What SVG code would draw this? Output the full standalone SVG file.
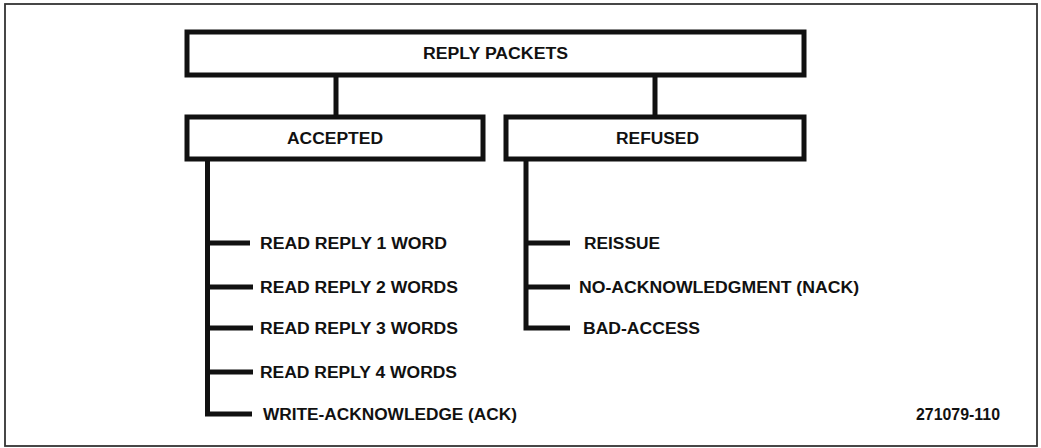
<svg xmlns="http://www.w3.org/2000/svg" width="1041" height="448" viewBox="0 0 1041 448">
<style>
.box{fill:#fff;stroke:#111;stroke-width:5}
.ln{stroke:#111;stroke-width:5;fill:none;stroke-linecap:butt}
text{font-family:"Liberation Sans",Arial,sans-serif;font-weight:bold;font-size:16px;fill:#111}
</style>
<rect x="0" y="0" width="1041" height="448" fill="#fff"/>
<rect id="frame" x="5" y="4" width="1032" height="442" fill="none" stroke="#333" stroke-width="1.8"/>
<g id="connectors">
<line class="ln" x1="336" y1="75" x2="336" y2="117"/>
<line class="ln" x1="655" y1="75" x2="655" y2="117"/>
<polyline class="ln" points="207.5,159 207.5,414 252,414"/>
<line class="ln" x1="207" y1="243" x2="250" y2="243"/>
<line class="ln" x1="207" y1="287" x2="253" y2="287"/>
<line class="ln" x1="207" y1="328" x2="253" y2="328"/>
<line class="ln" x1="207" y1="372" x2="253" y2="372"/>
<polyline class="ln" points="526,159 526,328 570,328"/>
<line class="ln" x1="526" y1="243" x2="570" y2="243"/>
<line class="ln" x1="526" y1="287" x2="570" y2="287"/>
</g>
<g id="reply-packets">
<rect class="box" x="187" y="32" width="617" height="43"/>
<text x="423" y="59" textLength="145" lengthAdjust="spacingAndGlyphs">REPLY PACKETS</text>
</g>
<g id="accepted">
<rect class="box" x="187" y="117" width="296" height="42"/>
<text x="287" y="144" textLength="96" lengthAdjust="spacingAndGlyphs">ACCEPTED</text>
</g>
<g id="refused">
<rect class="box" x="506" y="117" width="298" height="42"/>
<text x="616" y="144" textLength="83" lengthAdjust="spacingAndGlyphs">REFUSED</text>
</g>
<g id="read1"><text x="260" y="249" textLength="187" lengthAdjust="spacingAndGlyphs">READ REPLY 1 WORD</text></g>
<g id="read2"><text x="260" y="293" textLength="198" lengthAdjust="spacingAndGlyphs">READ REPLY 2 WORDS</text></g>
<g id="read3"><text x="260" y="334" textLength="198" lengthAdjust="spacingAndGlyphs">READ REPLY 3 WORDS</text></g>
<g id="read4"><text x="260" y="378" textLength="197" lengthAdjust="spacingAndGlyphs">READ REPLY 4 WORDS</text></g>
<g id="write-ack"><text x="263" y="420" textLength="254" lengthAdjust="spacingAndGlyphs">WRITE-ACKNOWLEDGE (ACK)</text></g>
<g id="reissue"><text x="584" y="249" textLength="76" lengthAdjust="spacingAndGlyphs">REISSUE</text></g>
<g id="nack"><text x="579" y="293" textLength="280" lengthAdjust="spacingAndGlyphs">NO-ACKNOWLEDGMENT (NACK)</text></g>
<g id="bad-access"><text x="583" y="334" textLength="117" lengthAdjust="spacingAndGlyphs">BAD-ACCESS</text></g>
<text x="916" y="420" textLength="84" lengthAdjust="spacingAndGlyphs">271079-110</text>
</svg>
